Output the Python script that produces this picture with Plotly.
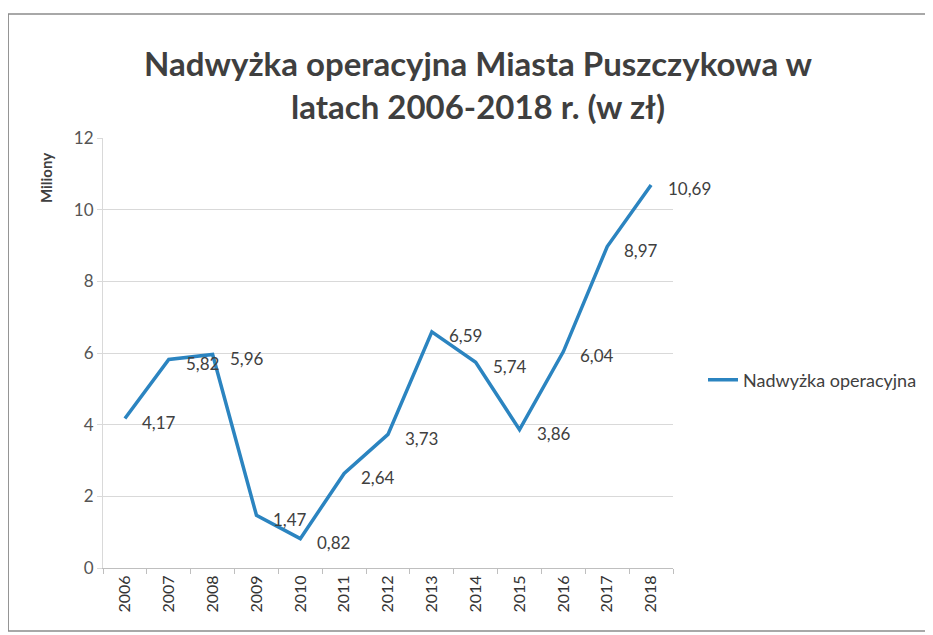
import plotly.graph_objects as go

years = ["2006", "2007", "2008", "2009", "2010", "2011", "2012",
         "2013", "2014", "2015", "2016", "2017", "2018"]
values = [4.17, 5.82, 5.96, 1.47, 0.82, 2.64, 3.73, 6.59, 5.74, 3.86, 6.04, 8.97, 10.69]
labels = [f"{v:.2f}".replace(".", ",") for v in values]
series_name = "Nadwyżka operacyjna"
title_text = "Nadwyżka operacyjna Miasta Puszczykowa w<br>latach 2006-2018 r. (w zł)"

# page body has an 8px margin; work in page pixels and shift
O = 8
W, H = 933 - O, 635 - O
L, R, T, B = 103 - O, 259, 138 - O, 67
pw, ph = W - L - R, H - T - B

def px(x):
    return (x - O - L) / pw

def py(y):
    return (H - B - (y - O)) / ph

fig = go.Figure()
fig.add_trace(go.Scatter(
    x=years, y=values, mode="lines", name=series_name,
    line=dict(color="#2B84C0", width=3.5),
))

annotations = [
    dict(x=i, y=v, text=lab, xref="x", yref="y", showarrow=False,
         xanchor="left", yanchor="middle", xshift=15, yshift=-4,
         font=dict(family="Lato", size=17, color="#404040"))
    for i, (v, lab) in enumerate(zip(values, labels))
]
annotations.append(dict(text="<b>Miliony</b>", x=px(46), y=py(178), xref="paper", yref="paper",
                        textangle=-90, showarrow=False, xanchor="center", yanchor="middle",
                        font=dict(family="Lato", size=15, color="#404040")))

fig.update_layout(
    width=W, height=H,
    margin=dict(l=L, r=R, t=T, b=B),
    paper_bgcolor="white", plot_bgcolor="white",
    title=dict(text="<b>" + title_text + "</b>", x=(478 - O) / W, xanchor="center",
               y=1 - (76 - O) / H, yanchor="middle", yref="container",
               font=dict(family="Lato", size=33, color="#3F3F3F")),
    showlegend=True,
    legend=dict(x=px(703), y=py(380), xanchor="left", yanchor="middle",
                font=dict(family="Lato", size=18, color="#404040"),
                bgcolor="rgba(0,0,0,0)"),
    xaxis=dict(type="category", range=[-0.5, 12.5], tickangle=-90,
               tickfont=dict(family="Lato", size=16, color="#333333"),
               showline=True, linecolor="#BFBFBF", linewidth=1,
               ticks="outside", tickson="boundaries", ticklen=5, tickcolor="#BFBFBF",
               showgrid=False),
    yaxis=dict(range=[0, 12], dtick=2,
               tickfont=dict(family="Lato", size=17, color="#555555"),
               showgrid=True, gridcolor="#D9D9D9", gridwidth=1,
               showline=True, linecolor="#D9D9D9",
               ticks="outside", ticklen=5, tickcolor="#D9D9D9",
               zeroline=False),
    annotations=annotations,
    shapes=[dict(type="rect", xref="paper", yref="paper",
                 x0=px(8), x1=px(931), y0=py(631), y1=py(14),
                 line=dict(color="#8C8C8C", width=1.5), fillcolor="rgba(0,0,0,0)")],
)

fig.write_html("out.html")
